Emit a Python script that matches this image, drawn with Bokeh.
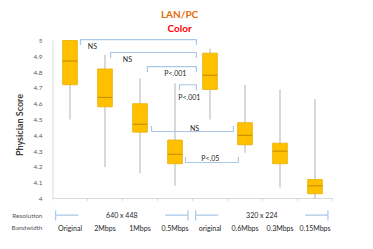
from bokeh.plotting import figure
from bokeh.models import Range1d, FixedTicker, NumeralTickFormatter
from bokeh.core.properties import value
from bokeh.embed import file_html
from bokeh.resources import INLINE

# ---- data ----
bandwidths = ["Original", "2Mbps", "1Mbps", "0.5Mbps", "original", "0.6Mbps", "0.3Mbps", "0.15Mbps"]
whisker_low = [4.50, 4.20, 4.16, 4.08, 4.50, 4.29, 4.07, 4.00]
q1 = [4.72, 4.58, 4.42, 4.22, 4.69, 4.34, 4.22, 4.03]
median = [4.87, 4.64, 4.47, 4.28, 4.78, 4.40, 4.30, 4.08]
q3 = [5.00, 4.82, 4.60, 4.37, 4.92, 4.48, 4.35, 4.12]
whisker_high = [5.00, 4.91, 4.76, 4.73, 4.95, 4.72, 4.69, 4.63]

resolutions = ["640 x 448", "320 x 224"]
resolution_groups = [(0, 3), (4, 7)]
row_headers = ["Resolution", "Bandwidth"]

# comparison brackets: start, end (category units), level, label
bracket_x0 = [0.30, 1.16, 2.21, 3.13, 2.33, 3.30]
bracket_x1 = [3.61, 3.61, 3.61, 3.61, 4.67, 4.81]
bracket_y = [5.006, 4.924, 4.835, 4.72, 4.424, 4.228]
bracket_dir = [-1, -1, -1, -1, 1, 1]
bracket_text = ["NS", "NS", "P<.001", "P<.001", "NS", "P<.05"]
bracket_text_x = [0.64, 1.64, 3.01, 3.41, 3.56, 4.01]
bracket_text_y = [4.965, 4.885, 4.795, 4.645, 4.445, 4.255]

y_ticks = [4.0, 4.1, 4.2, 4.3, 4.4, 4.5, 4.6, 4.7, 4.8, 4.9, 5.0]

FONT = "Lato"
GREY = "#595959"
BLUE = "#A9C8E8"
W, H = 373, 249
LEFT = 52
PX = 35.0     # px per category
PY = 158.0    # px per score unit
Y4 = 198      # pixel row of score 4
res_y = 3.895
bw_y = 3.816

x = list(range(len(bandwidths)))

p = figure(width=W, height=H, output_backend="svg", toolbar_location=None,
           x_axis_type=None,
           x_range=Range1d(-0.5, 7.5 + (W - LEFT - 8 * PX) / PX),
           y_range=Range1d(4 - (H - Y4) / PY, 4 + Y4 / PY),
           min_border_left=LEFT, min_border_right=0, min_border_top=0, min_border_bottom=0)
p.outline_line_color = None
p.grid.visible = False
p.background_fill_color = "white"

yax = p.yaxis[0]
yax.ticker = FixedTicker(ticks=[bw_y, res_y] + y_ticks)
yax.formatter = NumeralTickFormatter(format="0.[0]")
yax.major_label_overrides = {bw_y: row_headers[1], res_y: row_headers[0]}
yax.axis_line_color = None
yax.major_tick_line_color = None
yax.minor_tick_line_color = None
yax.major_label_text_font = FONT
yax.major_label_text_font_size = "6.5px"
yax.major_label_text_color = GREY
yax.major_label_standoff = 4
yax.axis_label = "Physician Score"
yax.axis_label_text_font = FONT
yax.axis_label_text_font_size = "9px"
yax.axis_label_text_font_style = "bold"
yax.axis_label_text_color = "#404040"
yax.axis_label_standoff = -16

# score axis line (x = left frame edge) and x axis line with boundary ticks
p.segment(x0=[-0.5], y0=[4], x1=[-0.5], y1=[5], line_color="#D9D9D9", line_width=2)
p.segment(x0=[-0.5], y0=[4], x1=[7.5], y1=[4], line_color="#D9D9D9", line_width=1)
bounds = [i - 0.5 for i in range(len(bandwidths) + 1)]
p.segment(x0=bounds, y0=[4] * len(bounds), x1=bounds, y1=[3.985] * len(bounds),
          line_color="#D9D9D9", line_width=1)

# whiskers
p.segment(x0=x, y0=whisker_low, x1=x, y1=whisker_high, line_color="#BFBFBF", line_width=1.2)
# boxes
p.vbar(x=x, width=0.42, bottom=q1, top=q3, fill_color="#FFC000", line_color="#E8B000", line_width=0.8)
p.segment(x0=[i - 0.21 for i in x], y0=median, x1=[i + 0.21 for i in x], y1=median,
          line_color="#C08A00", line_width=1)

# brackets
tick = 0.035
xs, ys = [], []
for x0, x1, yv, d in zip(bracket_x0, bracket_x1, bracket_y, bracket_dir):
    xs.append([x0, x0, x1, x1])
    ys.append([yv + d * tick, yv, yv, yv + d * tick])
p.multi_line(xs=xs, ys=ys, line_color=BLUE, line_width=1.2)
p.text(x=bracket_text_x, y=bracket_text_y, text=bracket_text, text_font=value(FONT),
       text_font_size="7px", text_color="#262626", text_align="center", text_baseline="middle")

# resolution row
res_text_x = []
lx, ly = [], []
for (a, b) in resolution_groups:
    left = a - 0.41
    right = b + 0.37
    res_text_x.append((left + right) / 2)
    lx.append([left, left, left, left + 0.65])
    ly.append([res_y + 0.03, res_y - 0.035, res_y, res_y])
    lx.append([right - 0.65, right, right, right])
    ly.append([res_y, res_y, res_y + 0.03, res_y - 0.035])
p.multi_line(xs=lx, ys=ly, line_color=BLUE, line_width=1.2)
p.text(x=res_text_x, y=[res_y] * 2, text=resolutions, text_font=value(FONT),
       text_font_size="7px", text_color="#262626", text_align="center", text_baseline="middle")

# bandwidth row
p.text(x=x, y=[bw_y] * len(x), text=bandwidths, text_font=value(FONT),
       text_font_size="7px", text_color="#262626", text_align="center", text_baseline="middle")

# title
p.text(x=[3.13], y=[5.17], text=["LAN/PC"], text_font=value(FONT), text_font_size="10px",
       text_font_style="bold", text_color="#E46C0A", text_align="center", text_baseline="middle")
p.text(x=[3.13], y=[5.076], text=["Color"], text_font=value(FONT), text_font_size="10px",
       text_font_style="bold", text_color="#FF0000", text_align="center", text_baseline="middle")

open("out.html", "w").write(file_html(p, INLINE))
